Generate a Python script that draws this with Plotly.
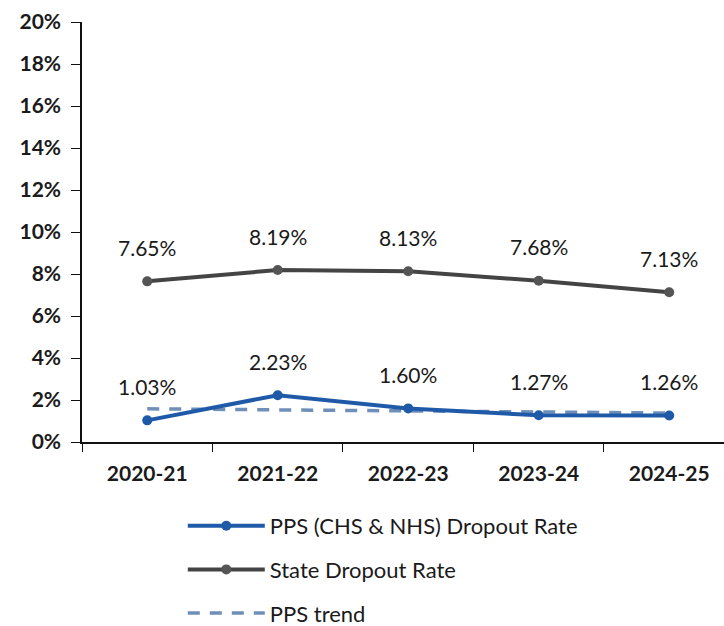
import plotly.graph_objects as go

years = ["2020-21", "2021-22", "2022-23", "2023-24", "2024-25"]
pps_rate = [1.03, 2.23, 1.60, 1.27, 1.26]
state_rate = [7.65, 8.19, 8.13, 7.68, 7.13]
pps_trend = [1.58, 1.53, 1.48, 1.43, 1.38]
y_ticks = [0, 2, 4, 6, 8, 10, 12, 14, 16, 18, 20]

FONT = "Lato"
TXT = "#1a1a1a"

fig = go.Figure()
fig.add_trace(go.Scatter(
    x=years, y=pps_trend, mode="lines", name="PPS trend",
    line=dict(color="#6f8fb8", width=3.5, dash="12px,10px"),
    legendgroup="c", legendrank=3, hoverinfo="skip"))
fig.add_trace(go.Scatter(
    x=years, y=pps_rate, mode="lines+markers", name="PPS (CHS & NHS) Dropout Rate",
    line=dict(color="#1f5aa8", width=4), marker=dict(size=10, color="#1f5aa8"),
    legendgroup="a", legendrank=1))
fig.add_trace(go.Scatter(
    x=years, y=state_rate, mode="lines+markers", name="State Dropout Rate",
    line=dict(color="#444444", width=4), marker=dict(size=10, color="#555555"),
    legendgroup="b", legendrank=2))

for series in (pps_rate, state_rate):
    for xv, yv in zip(years, series):
        fig.add_annotation(x=xv, y=yv, text=f"{yv:.2f}%", showarrow=False,
                           yshift=34, font=dict(family=FONT, size=21, color=TXT))

fig.update_layout(
    width=724, height=626,
    margin=dict(l=82, r=0, t=22, b=184, autoexpand=False),
    paper_bgcolor="white", plot_bgcolor="white",
    font=dict(family=FONT, color=TXT),
    showlegend=True,
    legend=dict(x=0.157, y=-0.15, xanchor="left", yanchor="top",
                traceorder="grouped", tracegroupgap=12,
                font=dict(family=FONT, size=22, color=TXT),
                itemwidth=77),
)
fig.update_xaxes(
    type="category", categoryorder="array", categoryarray=years,
    range=[-0.5, 4.42], showline=True, linecolor="#111", linewidth=1.5,
    ticks="outside", tickson="boundaries", ticklen=8, tickcolor="#111",
    showgrid=False, zeroline=False, ticklabelstandoff=12,
    tickfont=dict(family=FONT, size=21, color=TXT, weight="bold"))
fig.update_yaxes(
    range=[0, 20], tickvals=y_ticks, ticktext=[f"{v}%" for v in y_ticks],
    showline=True, linecolor="#111", linewidth=1.5,
    ticks="outside", ticklen=9, tickcolor="#111",
    showgrid=False, zeroline=False, ticklabelstandoff=6,
    tickfont=dict(family=FONT, size=21, color=TXT, weight="bold"))

fig.write_html("out.html")
